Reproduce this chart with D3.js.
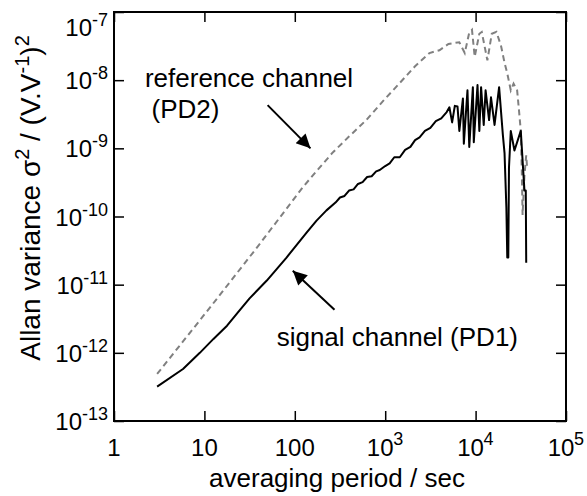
<!DOCTYPE html>
<html>
<head>
<meta charset="utf-8">
<script src="https://cdn.jsdelivr.net/npm/d3@7"></script>
<style>
body { margin: 0; background: #fff; }
text { font-family: "Liberation Sans", Arial, sans-serif; fill: #000; }
</style>
</head>
<body>
<script>
// averaging period (s) and Allan variance, signal channel (PD1)
const tauSignal = [3.0, 5.8, 8.9, 12.6, 17.8, 24.5, 31.6, 49, 81, 135, 174, 224,
  282, 316, 355, 398, 447, 500, 562, 631, 708, 794, 870, 1000, 1120, 1260, 1450, 1660,
  1900, 2140, 2400, 2750, 3160, 3630, 4170, 4790, 5130, 5500, 5890, 6310, 6610, 7240,
  7410, 8130, 8510, 9330, 9550, 10500, 11000, 11500, 12300, 12900, 14100, 14800, 16200,
  18200, 20000, 20900, 21900, 22400, 23000, 23400, 24500, 26900, 31600, 34700, 35900, 36300];
const sigSignal = [3.2e-13, 5.8e-13, 1.0e-12, 1.6e-12, 2.5e-12, 4.2e-12, 6.3e-12, 1.15e-11,
  2.5e-11, 5.8e-11, 8.7e-11, 1.23e-10,
  1.6e-10, 1.9e-10, 2.0e-10, 2.4e-10, 2.5e-10, 3.0e-10, 3.2e-10, 3.8e-10, 3.9e-10, 4.6e-10,
  4.8e-10, 5.5e-10, 6.0e-10, 7.4e-10, 7.4e-10, 9.5e-10, 1.05e-9, 1.32e-9, 1.45e-9, 1.8e-9,
  2.0e-9, 2.5e-9, 2.75e-9, 3.4e-9, 4.0e-9, 2.4e-9, 4.2e-9, 4.1e-9, 1.8e-9, 5.4e-9,
  1.17e-9, 7.1e-9, 1.05e-9, 7.9e-9, 1.23e-9, 8.5e-9, 1.8e-9, 7.9e-9, 2.2e-9, 7.1e-9,
  2.6e-9, 5.6e-9, 2.2e-9, 7.9e-9, 1.6e-9, 8.5e-10, 1.35e-10, 2.5e-11, 2.5e-11, 5.2e-10,
  1.8e-9, 9.3e-10, 1.8e-9, 2.4e-10, 2.4e-10, 2.1e-11];

// reference channel (PD2)
const tauRef = [3.0, 11.5, 40, 123, 178, 263, 400, 617, 955, 1450, 2140, 3090, 3980, 5010,
  6610, 7590, 8510, 9120, 9770, 11000, 11700, 13500, 15100, 17000, 19100, 20900, 22400,
  24500, 26300, 28800, 30200, 31600, 32400, 33100, 34700, 36300, 37200];
const sigRef = [4.9e-13, 4.6e-12, 3.8e-11, 2.7e-10, 4.8e-10, 8.7e-10, 1.5e-9, 2.6e-9, 5.0e-9,
  9.1e-9, 1.6e-8, 2.5e-8, 2.75e-8, 3.4e-8, 3.6e-8, 2.5e-8, 5.0e-8, 5.5e-8, 2.2e-8, 4.8e-8,
  5.1e-8, 1.95e-8, 4.8e-8, 5.1e-8, 3.2e-8, 1.8e-8, 1.26e-8, 7.1e-9, 8.9e-9, 7.1e-9, 3.6e-9,
  1.8e-9, 5.0e-10, 1.05e-10, 4.0e-10, 7.9e-10, 5.0e-10];

const xTicks = [1, 10, 100, 1e3, 1e4, 1e5];
const xTickBase = ["1", "10", "100", "10", "10", "10"];
const xTickExp = ["", "", "", "3", "4", "5"];
const yTicks = [1e-13, 1e-12, 1e-11, 1e-10, 1e-9, 1e-8, 1e-7];
const yTickExp = ["-13", "-12", "-11", "-10", "-9", "-8", "-7"];

// annotations: text anchors and arrows in data units
const notes = [
  {text: "reference channel", tau: 2.2, val: 7.9e-9},
  {text: "(PD2)", tau: 2.6, val: 2.75e-9},
  {text: "signal channel (PD1)", tau: 63, val: 1.26e-12}
];
const arrows = [
  {from: [50, 4.3e-9], to: [149, 1.0e-9]},
  {from: [275, 4.3e-12], to: [95, 1.6e-11]}
];

const width = 587, height = 496;
const x = d3.scaleLog().domain([1, 1e5]).range([114, 566]);
const y = d3.scaleLog().domain([1e-13, 1e-7]).range([421, 12]);

const svg = d3.select("body").append("svg")
  .attr("width", width)
  .attr("height", height);

svg.append("defs").append("marker")
  .attr("id", "head")
  .attr("viewBox", "0 0 10 10")
  .attr("refX", 10).attr("refY", 5)
  .attr("markerWidth", 8).attr("markerHeight", 7)
  .attr("markerUnits", "strokeWidth")
  .attr("orient", "auto")
  .append("path").attr("d", "M0,0L10,5L0,10z").attr("fill", "#000");

// ticks on all four sides, pointing in
const tickLen = 10;
const axes = [
  svg.append("g").attr("transform", "translate(0,421)").call(d3.axisBottom(x).tickValues(xTicks).tickSize(-tickLen).tickFormat("")),
  svg.append("g").attr("transform", "translate(0,12)").call(d3.axisTop(x).tickValues(xTicks).tickSize(-tickLen).tickFormat("")),
  svg.append("g").attr("transform", "translate(114,0)").call(d3.axisLeft(y).tickValues(yTicks).tickSize(-tickLen).tickFormat("")),
  svg.append("g").attr("transform", "translate(566,0)").call(d3.axisRight(y).tickValues(yTicks).tickSize(-tickLen).tickFormat(""))
];
axes.forEach(g => {
  g.select(".domain").remove();
  g.selectAll(".tick line").attr("stroke", "#000").attr("stroke-width", 1.5);
});

svg.append("rect")
  .attr("x", 114).attr("y", 12)
  .attr("width", 566 - 114).attr("height", 421 - 12)
  .attr("fill", "none").attr("stroke", "#000").attr("stroke-width", 2);

// x tick labels
xTicks.forEach((t, i) => {
  svg.append("text")
    .attr("x", x(t) + (xTickExp[i] ? -5 : 0))
    .attr("y", 456)
    .attr("text-anchor", "middle")
    .attr("font-size", 24)
    .text(xTickBase[i]);
  if (xTickExp[i]) {
    svg.append("text")
      .attr("x", x(t) + 8)
      .attr("y", 445)
      .attr("font-size", 18)
      .text(xTickExp[i]);
  }
});

// y tick labels
yTicks.forEach((t, i) => {
  const cy = Math.max(y(t), 27);
  const lab = svg.append("text")
    .attr("x", 108)
    .attr("y", cy + 9)
    .attr("text-anchor", "end")
    .attr("font-size", 24);
  lab.append("tspan").text("10");
  lab.append("tspan").attr("dy", -10).attr("font-size", 18).text(yTickExp[i]);
});

// axis titles
svg.append("text")
  .attr("x", 337).attr("y", 487)
  .attr("text-anchor", "middle")
  .attr("font-size", 26)
  .text("averaging period / sec");

const yl = svg.append("text")
  .attr("transform", "translate(40,198) rotate(-90)")
  .attr("text-anchor", "middle")
  .attr("font-size", 28);
yl.append("tspan").text("Allan variance \u03c3");
yl.append("tspan").attr("dy", -11).attr("font-size", 20).text("2");
yl.append("tspan").attr("dy", 11).text(" / (V.V");
yl.append("tspan").attr("dy", -11).attr("font-size", 20).text("-1");
yl.append("tspan").attr("dy", 11).text(")");
yl.append("tspan").attr("dy", -11).attr("font-size", 20).text("2");

// series
const line = d3.line().x(d => x(d[0])).y(d => y(d[1]));

svg.append("path")
  .datum(tauRef.map((t, i) => [t, sigRef[i]]))
  .attr("d", line)
  .attr("fill", "none")
  .attr("stroke", "#808080")
  .attr("stroke-width", 2)
  .attr("stroke-dasharray", "6,4");

svg.append("path")
  .datum(tauSignal.map((t, i) => [t, sigSignal[i]]))
  .attr("d", line)
  .attr("fill", "none")
  .attr("stroke", "#000")
  .attr("stroke-width", 2)
  .attr("stroke-linejoin", "round");

// annotations
svg.selectAll(".note")
  .data(notes)
  .enter().append("text")
  .attr("class", "note")
  .attr("x", d => x(d.tau))
  .attr("y", d => y(d.val))
  .attr("font-size", 26)
  .text(d => d.text);

svg.selectAll(".arrow")
  .data(arrows)
  .enter().append("line")
  .attr("class", "arrow")
  .attr("x1", d => x(d.from[0])).attr("y1", d => y(d.from[1]))
  .attr("x2", d => x(d.to[0])).attr("y2", d => y(d.to[1]))
  .attr("stroke", "#000")
  .attr("stroke-width", 2)
  .attr("marker-end", "url(#head)");
</script>
</body>
</html>
